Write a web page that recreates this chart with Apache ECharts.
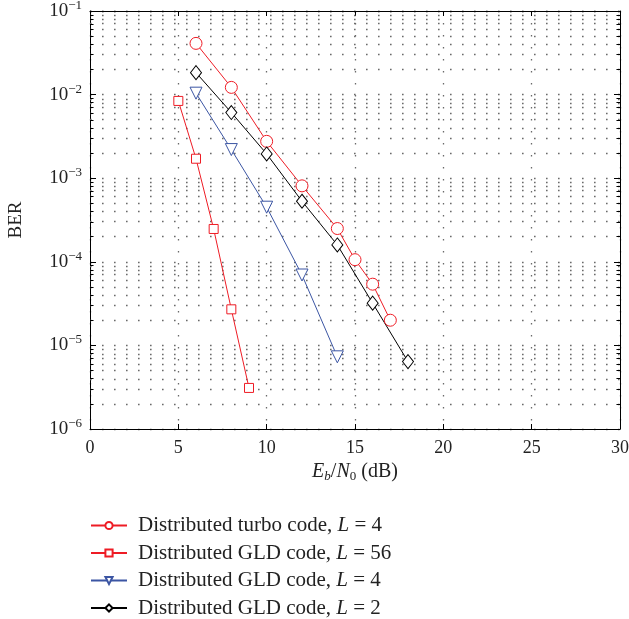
<!DOCTYPE html>
<html><head><meta charset="utf-8">
<script src="https://cdn.jsdelivr.net/npm/echarts@6/dist/echarts.min.js"></script>
<style>html,body{margin:0;padding:0;background:#fff}#c{width:629px;height:619px}</style>
</head><body><div id="c"></div>
<script>
const seriesNames = ['Distributed turbo code, L = 4','Distributed GLD code, L = 56','Distributed GLD code, L = 4','Distributed GLD code, L = 2'];
const turboX = [6,8,10,12,14,15,16,17];
const turboBER = [4.1e-2,1.22e-2,2.76e-3,8.1e-4,2.5e-4,1.06e-4,5.4e-5,2.0e-5];
const gld56X = [5,6,7,8,9];
const gld56BER = [8.4e-3,1.71e-3,2.47e-4,2.7e-5,3.1e-6];
const gld4X = [6,8,10,12,14];
const gld4BER = [1.04e-2,2.2e-3,4.5e-4,6.95e-5,7.3e-6];
const gld2X = [6,8,10,12,14,16,18];
const gld2BER = [1.83e-2,6.1e-3,1.95e-3,5.3e-4,1.59e-4,3.2e-5,6.4e-6];
const xTicks = [0,5,10,15,20,25,30];
const decades = [-6,-5,-4,-3,-2,-1];

const FONT = 'Liberation Serif';
const RED = '#ee1c25', BLUE = '#3b55a3', BLACK = '#000';
function pairs(xs, ys){ return xs.map((x,i)=>[x, ys[i]]); }

// minor grid exponents log10(m x 10^k), placed on a hidden linear helper axis
const minorExp = [];
decades.slice(0,5).forEach(k=>{ for(let m=2;m<=9;m++) minorExp.push(k + Math.log10(m)); });
const gridDot = {color:'#6a6a6a', width:1.3, type:[1.6,10.4]};
const markLineData = [];
minorExp.forEach(e=>markLineData.push({yAxis:e, lineStyle:gridDot}));
minorExp.forEach(e=>{
  markLineData.push([{coord:[0,e], lineStyle:{color:'#000',width:1,type:'solid'}},{coord:[0.2,e]}]);
  markLineData.push([{coord:[29.8,e], lineStyle:{color:'#000',width:1,type:'solid'}},{coord:[30,e]}]);
});

const baseSeries = (name, data, color, symbol, size, extra) => Object.assign({
  name, type:'line', data, color,
  symbol, symbolSize:size,
  itemStyle:{color:'#fff', borderColor:color, borderWidth:1},
  lineStyle:{color, width:1},
  z:5, animation:false
}, extra||{});

const option = {
  animation:false,
  grid:{left:90, right:9, top:11, bottom:190, containLabel:false, outerBoundsMode:'none'},
  xAxis:[{
    type:'value', min:0, max:30, interval:5,
    axisLine:{show:true, onZero:false, lineStyle:{color:'#000', width:1}},
    axisTick:{inside:true, length:5, lineStyle:{color:'#000'}},
    axisLabel:{fontFamily:FONT, fontSize:18, color:'#222', margin:10},
    splitLine:{show:true, lineStyle:gridDot},
    name:'{i|E}{sub|b}{n|/}{i|N}{s0|0}{n| (dB)}', nameLocation:'middle', nameGap:31,
    nameTextStyle:{rich:{
      i:{fontFamily:FONT, fontSize:20, fontStyle:'italic', color:'#222'},
      n:{fontFamily:FONT, fontSize:20, color:'#222'},
      sub:{fontFamily:FONT, fontSize:13, fontStyle:'italic', color:'#222', padding:[9,0,0,0]},
      s0:{fontFamily:FONT, fontSize:13, color:'#222', padding:[9,0,0,0]}
    }}
  },{
    type:'value', position:'top', min:0, max:30, interval:5,
    axisLine:{show:true, onZero:false, lineStyle:{color:'#000'}},
    axisTick:{inside:true, length:5, lineStyle:{color:'#000'}},
    axisLabel:{show:false}, splitLine:{show:false}
  }],
  yAxis:[{
    type:'log', logBase:10, min:1e-6, max:1e-1,
    axisLine:{show:true, onZero:false, lineStyle:{color:'#000'}},
    axisTick:{inside:true, length:6, lineStyle:{color:'#000'}},
    splitLine:{show:true, lineStyle:gridDot},
    axisLabel:{margin:8, formatter:v=>'{b|10}{s|−'+Math.abs(Math.round(Math.log10(v)))+'}',
      rich:{ b:{fontFamily:FONT, fontSize:19, color:'#222'},
             s:{fontFamily:FONT, fontSize:13, color:'#222', padding:[0,0,11,0]} } },
    name:'BER', nameLocation:'middle', nameGap:64, nameRotate:90,
    nameTextStyle:{fontFamily:FONT, fontSize:19, color:'#222'}
  },{
    type:'log', logBase:10, min:1e-6, max:1e-1, position:'right',
    axisLine:{show:true, onZero:false, lineStyle:{color:'#000'}},
    axisTick:{inside:true, length:6, lineStyle:{color:'#000'}},
    axisLabel:{show:false}, splitLine:{show:false}
  },{
    type:'value', min:-6, max:-1, show:false
  }],
  legend:{
    orient:'vertical', left:90, top:515, height:104, padding:0, itemWidth:36, itemHeight:9, itemGap:6.5,
    data:seriesNames,
    formatter:n=>{ const p = n.split('L = '); return '{n|'+p[0]+'}{i|L}{n| = '+p[1]+'}'; },
    textStyle:{padding:[0,0,0,6], rich:{
      n:{fontFamily:FONT, fontSize:21, color:'#222', lineHeight:20},
      i:{fontFamily:FONT, fontSize:21, fontStyle:'italic', color:'#222', lineHeight:20}
    }}
  },
  series:[
    {type:'line', data:[], yAxisIndex:2, xAxisIndex:0, silent:true, animation:false,
     markLine:{silent:true, symbol:'none', label:{show:false}, animation:false, data:markLineData}},
    baseSeries(seriesNames[0], pairs(turboX,turboBER), RED, 'circle', 12),
    baseSeries(seriesNames[1], pairs(gld56X,gld56BER), RED, 'rect', 9),
    baseSeries(seriesNames[2], pairs(gld4X,gld4BER), BLUE, 'triangle', 12, {symbolRotate:180}),
    baseSeries(seriesNames[3], pairs(gld2X,gld2BER), BLACK, 'diamond', [11,14])
  ]
};
echarts.init(document.getElementById('c'), null, {renderer:'canvas'}).setOption(option);
</script></body></html>
